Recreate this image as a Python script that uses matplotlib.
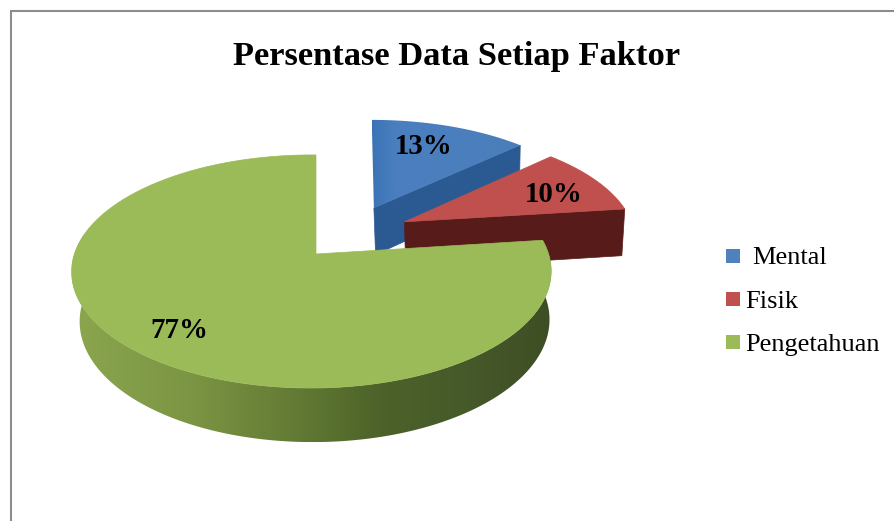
import numpy as np
import matplotlib
matplotlib.use("Agg")
import matplotlib.pyplot as plt
from matplotlib.colors import LinearSegmentedColormap
from matplotlib.patches import Polygon, Rectangle

categories = ["Mental", "Fisik", "Pengetahuan"]
values = [13, 10, 77]

top_colors = ["#4a7ebb", "#c0504d", "#9bbb59"]
side_colors = ["#2b5a92", "#571b19", "#6b8339"]
legend_colors = ["#4f81bd", "#c0504d", "#9bbb59"]

# how far each slice is pulled out of the pie, in pie radii
explode = [(0.26, 0.43), (0.39, 0.295), (0.0, 0.0)]
# small per slice corrections to get the same skew as the original
skew = [5, 5, 0]
tilt = [0, 0, 0.019]

# centre of the pie and perspective settings, all in pixels
cx, cy = 316, 254
a, b, k = 237, 113.9, 0.15
depth, shrink, slide = 49.7, 0.02, 3

plt.rcParams["font.family"] = ["Liberation Serif"]

fig = plt.figure(figsize=(8.94, 5.21), dpi=100)
ax = fig.add_axes([0, 0, 1, 1])


def project(i, u, v, low=0):
    # low=1 gives the bottom face of the slice
    w = 1 + k * v + tilt[i] * u + shrink * low
    x = cx + (a * u + slide * low) / w + skew[i] * (v - explode[i][1])
    y = cy - (b * v - depth * low) / w
    return np.column_stack([x, y])


def arc(start, stop, off):
    t = np.radians(np.linspace(start, stop, 200))
    return off[0] + np.cos(t), off[1] + np.sin(t)


def gradient_fill(pts, stops, zorder):
    # horizontal gradient clipped to a polygon
    xs = np.linspace(pts[:, 0].min(), pts[:, 0].max(), 400)
    cmap = LinearSegmentedColormap.from_list(
        "side", [((x - xs[0]) / (xs[-1] - xs[0]), c) for x, c in stops])
    img = ax.imshow(np.linspace(0, 1, 400).reshape(1, -1), cmap=cmap, aspect="auto",
                    extent=[xs[0], xs[-1], pts[:, 1].max(), pts[:, 1].min()],
                    zorder=zorder)
    clip = Polygon(pts, closed=True, transform=ax.transData, fc="none", ec="none")
    ax.add_patch(clip)
    img.set_clip_path(clip)


# slices go clockwise from twelve o'clock
stops = 90 - 3.6 * np.cumsum([0] + values)

for i in range(len(values)):
    off = explode[i]
    u, v = arc(stops[i], stops[i + 1], off)
    z = 2 + 2 * i
    top = np.vstack([project(i, np.array([off[0]]), np.array([off[1]])), project(i, u, v)])

    if categories[i] == "Pengetahuan":
        # round outer wall, only the part that faces us (right corner round to the left side)
        wu, wv = arc(stops[i], -190, off)
        wall = np.vstack([project(i, wu, wv), project(i, wu, wv, 1)[::-1]])
        x0 = wall[:, 0].min()
        x1 = wall[:, 0].max()
        shade = [(x0, "#8ba64e"), (190, "#7b9544"), (260, "#6b8339"), (320, "#5c7431"),
                 (380, "#4c6229"), (470, "#46592a"), (x1, "#3e4e24")]
        gradient_fill(wall, shade, z)
    else:
        # flat inner wall between the centre and the right corner
        us = np.array([off[0], u[-1]])
        vs = np.array([off[1], v[-1]])
        wall = np.vstack([project(i, us, vs), project(i, us, vs, 1)[::-1]])
        ax.add_patch(Polygon(wall, closed=True, fc=side_colors[i], ec=side_colors[i],
                             lw=0.5, zorder=z))

    if categories[i] == "Mental":
        gradient_fill(top, [(top[:, 0].min(), "#3a73b5"), (395, "#4a7fbf"),
                            (top[:, 0].max(), "#4a7ebb")], z + 1)
    else:
        ax.add_patch(Polygon(top, closed=True, fc=top_colors[i], ec=top_colors[i],
                             lw=0.5, zorder=z + 1))

# percent labels
label_pos = [(423.5, 146), (553.5, 195), (179, 331)]
for pos, val in zip(label_pos, values):
    ax.text(pos[0], pos[1], "%d%%" % val, ha="center", va="center", fontsize=20.8,
            fontweight="bold", color="black", zorder=10)

ax.text(457, 56, "Persentase Data Setiap Faktor", ha="center", va="center",
        fontsize=24.8, fontweight="bold", color="black")

# legend
legend_y = [256, 299, 342]
legend_x = [752, 745, 745]
for lab, col, x, y in zip(categories, legend_colors, legend_x, legend_y):
    ax.add_patch(Rectangle((726, y - 7), 14, 14, fc=col, ec="none"))
    ax.text(x, y, lab, ha="left", va="center_baseline", fontsize=19, color="black")

# chart border, cut off on the right and at the bottom
ax.plot([11, 11, 894], [521, 11, 11], color="#8c8c8c", lw=1.5, solid_joinstyle="miter")

ax.set_xlim(0, 894)
ax.set_ylim(521, 0)
ax.axis("off")

fig.savefig("out.png", dpi=100)
